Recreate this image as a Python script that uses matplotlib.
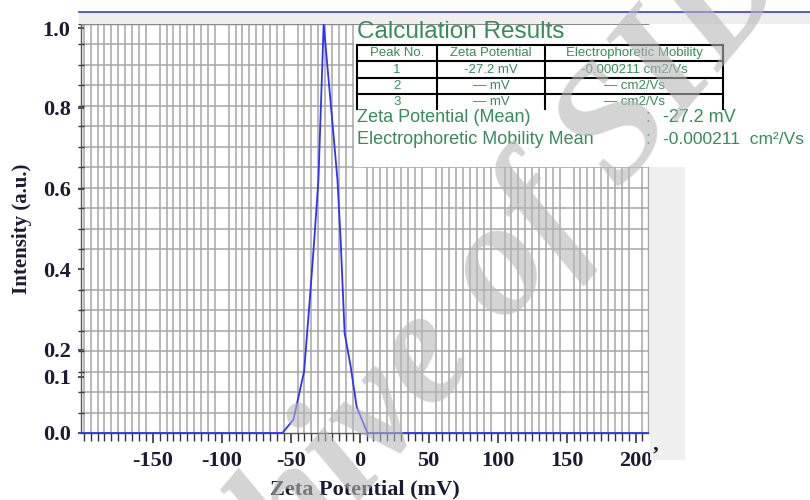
import numpy as np
import matplotlib
matplotlib.use("Agg")
import matplotlib.pyplot as plt
from matplotlib.patches import Rectangle
from matplotlib.lines import Line2D

# ---------------- data ----------------
zeta_mv = [-202, -56.0, -48.0, -40.3, -36.0, -33.1, -29.9, -26.1, -16.1, -13.8, -10.9, -6.5, -2.2, 5.6, 209]
intensity = [0.0, 0.0, 0.033, 0.150, 0.333, 0.464, 0.619, 1.0, 0.619, 0.472, 0.244, 0.162, 0.064, 0.0, 0.0]

x_tick_values = [-150, -100, -50, 0, 50, 100, 150, 200]
x_tick_labels = ['-150', '-100', '-50', '0', '50', '100', '150', '200']
y_tick_labels = ['0.0', '0.1', '0.2', '0.4', '0.6', '0.8', '1.0']
y_tick_label_pos = [0.0, 0.137, 0.203, 0.40, 0.597, 0.795, 0.99]

peak_no = ['1', '2', '3']
peak_zeta = ['-27.2 mV', '\u2014 mV', '\u2014 mV']
peak_mobility = ['-0.000211 cm2/Vs', '\u2014 cm2/Vs', '\u2014 cm2/Vs']
table_headers = ['Peak No.', 'Zeta Potential', 'Electrophoretic Mobility']
mean_zeta = '-27.2 mV'
mean_mobility = '-0.000211  cm\u00b2/Vs'

# ---------------- figure ----------------
W, H = 810, 500
fig = plt.figure(figsize=(8.1, 5.0), dpi=100)
def px(x):
    return x / W
def py(y):
    return 1 - y / H

ax = fig.add_axes([px(81), py(433), (648 - 81) / W, (433 - 24) / H])
ax.set_xlim(-202, 209)
ax.set_ylim(0, 1.0)

grid_c = '#a6a6a6'
ax.set_xticks(np.arange(-200, 206, 5), minor=True)
ax.set_yticks(np.arange(0, 1.001, 0.05), minor=True)
ax.grid(which='minor', color=grid_c, lw=1.1, zorder=0)
ax.set_axisbelow(True)

ax.set_xticks(x_tick_values)
ax.set_xticklabels(x_tick_labels)
ax.set_yticks(y_tick_label_pos)
ax.set_yticklabels(y_tick_labels)
ax.grid(which='major', visible=False)

label_c = '#1a1a30'
serif = 'Liberation Serif'
for lab in ax.get_xticklabels() + ax.get_yticklabels():
    lab.set_family(serif)
    lab.set_weight('bold')
    lab.set_fontsize(16)
    lab.set_color(label_c)

ax.tick_params(axis='x', which='major', direction='out', length=7, width=1.2, color='#333333', pad=6)
ax.tick_params(axis='x', which='minor', direction='out', length=6, width=1.0, color='#333333')
ax.tick_params(axis='y', which='major', direction='inout', length=5, width=1.2, color='#333333', pad=5)
ax.tick_params(axis='y', which='minor', direction='inout', length=4, width=1.0, color='#333333')

ax.spines['left'].set_color('#555555')
ax.spines['top'].set_color('#888888')
ax.spines['right'].set_color(grid_c)
ax.spines['bottom'].set_color('#555555')
for s in ax.spines.values():
    s.set_linewidth(1.0)

ax.plot(zeta_mv, intensity, color='#3030ff', lw=1.3, zorder=5, clip_on=False)

ax.set_xlabel('Zeta Potential (mV)', family=serif, weight='bold', fontsize=16, color=label_c, labelpad=6)
ax.set_ylabel('Intensity (a.u.)', family=serif, weight='bold', fontsize=15, color=label_c, labelpad=8)

# ---------------- overlays (header band, white results box) ----------------
fig.add_artist(Rectangle((px(79), py(24)), 1 - px(79), (24 - 12) / H, transform=fig.transFigure,
                         facecolor='#eeeeee', edgecolor='none', zorder=1))
fig.add_artist(Line2D([px(79), 1], [py(12), py(12)], transform=fig.transFigure, color='#3b3bd9', lw=1.2, zorder=2))
fig.add_artist(Rectangle((px(354), py(167)), 1 - px(354), (167 - 25) / H, transform=fig.transFigure,
                         facecolor='white', edgecolor='none', zorder=1))
fig.add_artist(Rectangle((px(650), py(460)), 35 / W, (460 - 167) / H, transform=fig.transFigure,
                         facecolor='#efefef', edgecolor='none', zorder=0.5))

green = '#3a8a5a'
sans = 'Liberation Sans'
fig.text(px(357), py(38), 'Calculation Results', family=sans, fontsize=17.5, color=green,
         ha='left', va='baseline', zorder=5)

# table lines
tx = [357, 437, 545, 723]
ty = [45, 61, 78, 94]
for y in ty:
    fig.add_artist(Line2D([px(tx[0]), px(tx[-1])], [py(y), py(y)], transform=fig.transFigure,
                          color='black', lw=1.5, zorder=5))
for x in tx:
    fig.add_artist(Line2D([px(x), px(x)], [py(45), py(109)], transform=fig.transFigure,
                          color='black', lw=1.5, zorder=5))

col_c = [397, 491, 634]
row_c = [53, 70, 86, 102]
for j, h in enumerate(table_headers):
    fig.text(px(col_c[j]), py(row_c[0]), h, family=sans, fontsize=9.5, color=green,
             ha='center', va='center', zorder=6)
for i in range(len(peak_no)):
    for j, v in enumerate([peak_no[i], peak_zeta[i], peak_mobility[i]]):
        fig.text(px(col_c[j]), py(row_c[i + 1]), v, family=sans, fontsize=9.5, color=green,
                 ha='center', va='center', zorder=6)

mfs = 13
fig.text(px(357), py(118), 'Zeta Potential (Mean)', family=sans, fontsize=mfs, color=green,
         ha='left', va='center', zorder=6)
fig.text(px(645), py(118), ':', family=sans, fontsize=mfs, color=green, ha='left', va='center', zorder=6)
fig.text(px(663), py(118), mean_zeta, family=sans, fontsize=mfs, color=green, ha='left', va='center', zorder=6)
fig.text(px(357), py(139), 'Electrophoretic Mobility Mean', family=sans, fontsize=mfs, color=green,
         ha='left', va='center', zorder=6)
fig.text(px(645), py(139), ':', family=sans, fontsize=mfs, color=green, ha='left', va='center', zorder=6)
fig.text(px(663), py(139), mean_mobility, family=sans, fontsize=12.5, color=green, ha='left', va='center', zorder=6)

fig.text(px(652), py(446), '\u2019', family=serif, weight='bold', fontsize=16, color=label_c,
         ha='left', va='top', zorder=6)

# watermark (translucent, on top)
fig.text(px(440), py(352), 'Archive of SID', family=serif, weight='bold', style='italic',
         fontsize=118, color='#b7b7b7', alpha=0.6, rotation=50, ha='center', va='center', zorder=10)

fig.savefig('out.png', dpi=100)
